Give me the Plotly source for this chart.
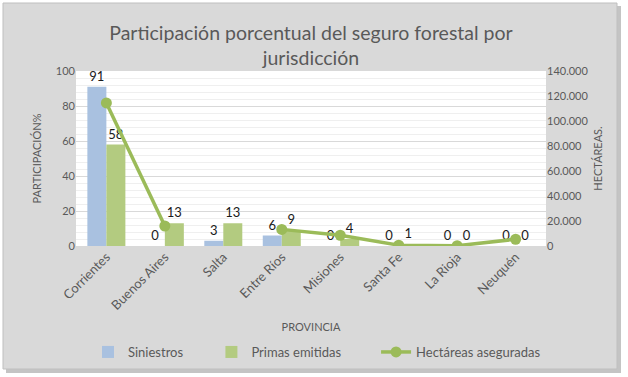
import plotly.graph_objects as go

provincias = ["Corrientes", "Buenos Aires", "Salta", "Entre Ríos", "Misiones", "Santa Fe", "La Rioja", "Neuquén"]
siniestros = [91, 0, 3, 6, 0, 0, 0, 0]
primas = [58, 13, 13, 9, 4, 1, 0, 0]
hectareas = [114500, 16000, None, 13300, 8600, 700, 200, 5400]
nombres = ["Siniestros", "Primas emitidas", "Hectáreas aseguradas"]

W, H = 628, 377
L, R, T, B = 76, 82, 71, 131
PW, PH = W - L - R, H - T - B

def px_x(p):
    return (p - L) / PW

def px_y(p):
    return (H - B - p) / PH

FONT = "Lato"
GREY = "#595959"
GREEN = "#9bbb59"

fig = go.Figure()
fig.add_bar(x=provincias, y=siniestros, name=nombres[0] + "&nbsp;" * 7,
            marker=dict(color="#a9c1e0", line=dict(width=0)),
            text=siniestros, textposition="outside",
            textfont=dict(size=13, color="#1a1a1a", family=FONT), cliponaxis=False)
fig.add_bar(x=provincias, y=primas, name=nombres[1] + "&nbsp;" * 9,
            marker=dict(color="#b3cb80", line=dict(width=0)),
            text=primas, textposition="outside",
            textfont=dict(size=13, color="#1a1a1a", family=FONT), cliponaxis=False)
fig.add_scatter(x=provincias, y=hectareas, name=nombres[2], yaxis="y2",
                mode="lines+markers", connectgaps=False,
                line=dict(color=GREEN, width=3.5), marker=dict(color=GREEN, size=11))

shapes = [
    dict(type="rect", xref="paper", yref="paper", layer="below",
         x0=px_x(6), x1=px_x(621), y0=px_y(6), y1=px_y(373),
         fillcolor="#c4c4c4", line=dict(width=0)),
    dict(type="rect", xref="paper", yref="paper", layer="below",
         x0=px_x(3), x1=px_x(617), y0=px_y(3), y1=px_y(369),
         fillcolor="#d9d9d9", line=dict(color="#bfbfbf", width=1)),
    dict(type="rect", xref="paper", yref="paper", layer="below",
         x0=0, x1=1, y0=0, y1=1, fillcolor="white", line=dict(width=0)),
]

fig.update_layout(
    width=W, height=H, margin=dict(l=L, r=R, t=T, b=B, autoexpand=False),
    paper_bgcolor="white", plot_bgcolor="white",
    font=dict(family=FONT, color=GREY),
    separators=",.",
    barmode="group", bargap=0.35, bargroupgap=0,
    shapes=shapes,
    title=dict(text="Participación porcentual del seguro forestal por<br>jurisdicción",
               x=0.5, xref="paper", xanchor="center",
               y=1 - 40 / H, yref="container", yanchor="middle",
               font=dict(size=19.5, color=GREY, family=FONT)),
    xaxis=dict(tickangle=-45, tickfont=dict(size=13, color=GREY), showgrid=False,
               showline=False, ticks="", automargin=False,
               title=dict(text="PROVINCIA", font=dict(size=11, color=GREY), standoff=11)),
    yaxis=dict(range=[0, 100], dtick=20, tickfont=dict(size=11, color=GREY),
               gridcolor="#d9d9d9", gridwidth=1, zeroline=False, showline=False,
               automargin=False,
               minor=dict(dtick=4, showgrid=True, gridcolor="#efefef", gridwidth=1),
               title=dict(text="PARTICIPACIÓN%", font=dict(size=11, color=GREY), standoff=12)),
    yaxis2=dict(range=[0, 140000], dtick=20000, overlaying="y", side="right",
                tickformat=",.0f", showgrid=False, zeroline=False, showline=False,
                automargin=False,
                tickfont=dict(size=11, color=GREY),
                title=dict(text="HECTÁREAS.", font=dict(size=11, color=GREY), standoff=6)),
    legend=dict(orientation="h", x=px_x(88), xanchor="left", y=px_y(352), yanchor="middle",
                font=dict(size=13, color=GREY), bgcolor="rgba(0,0,0,0)", traceorder="normal"),
)

fig.write_html("out.html", config={"displayModeBar": False},
               post_script="document.body.style.margin='0';")
